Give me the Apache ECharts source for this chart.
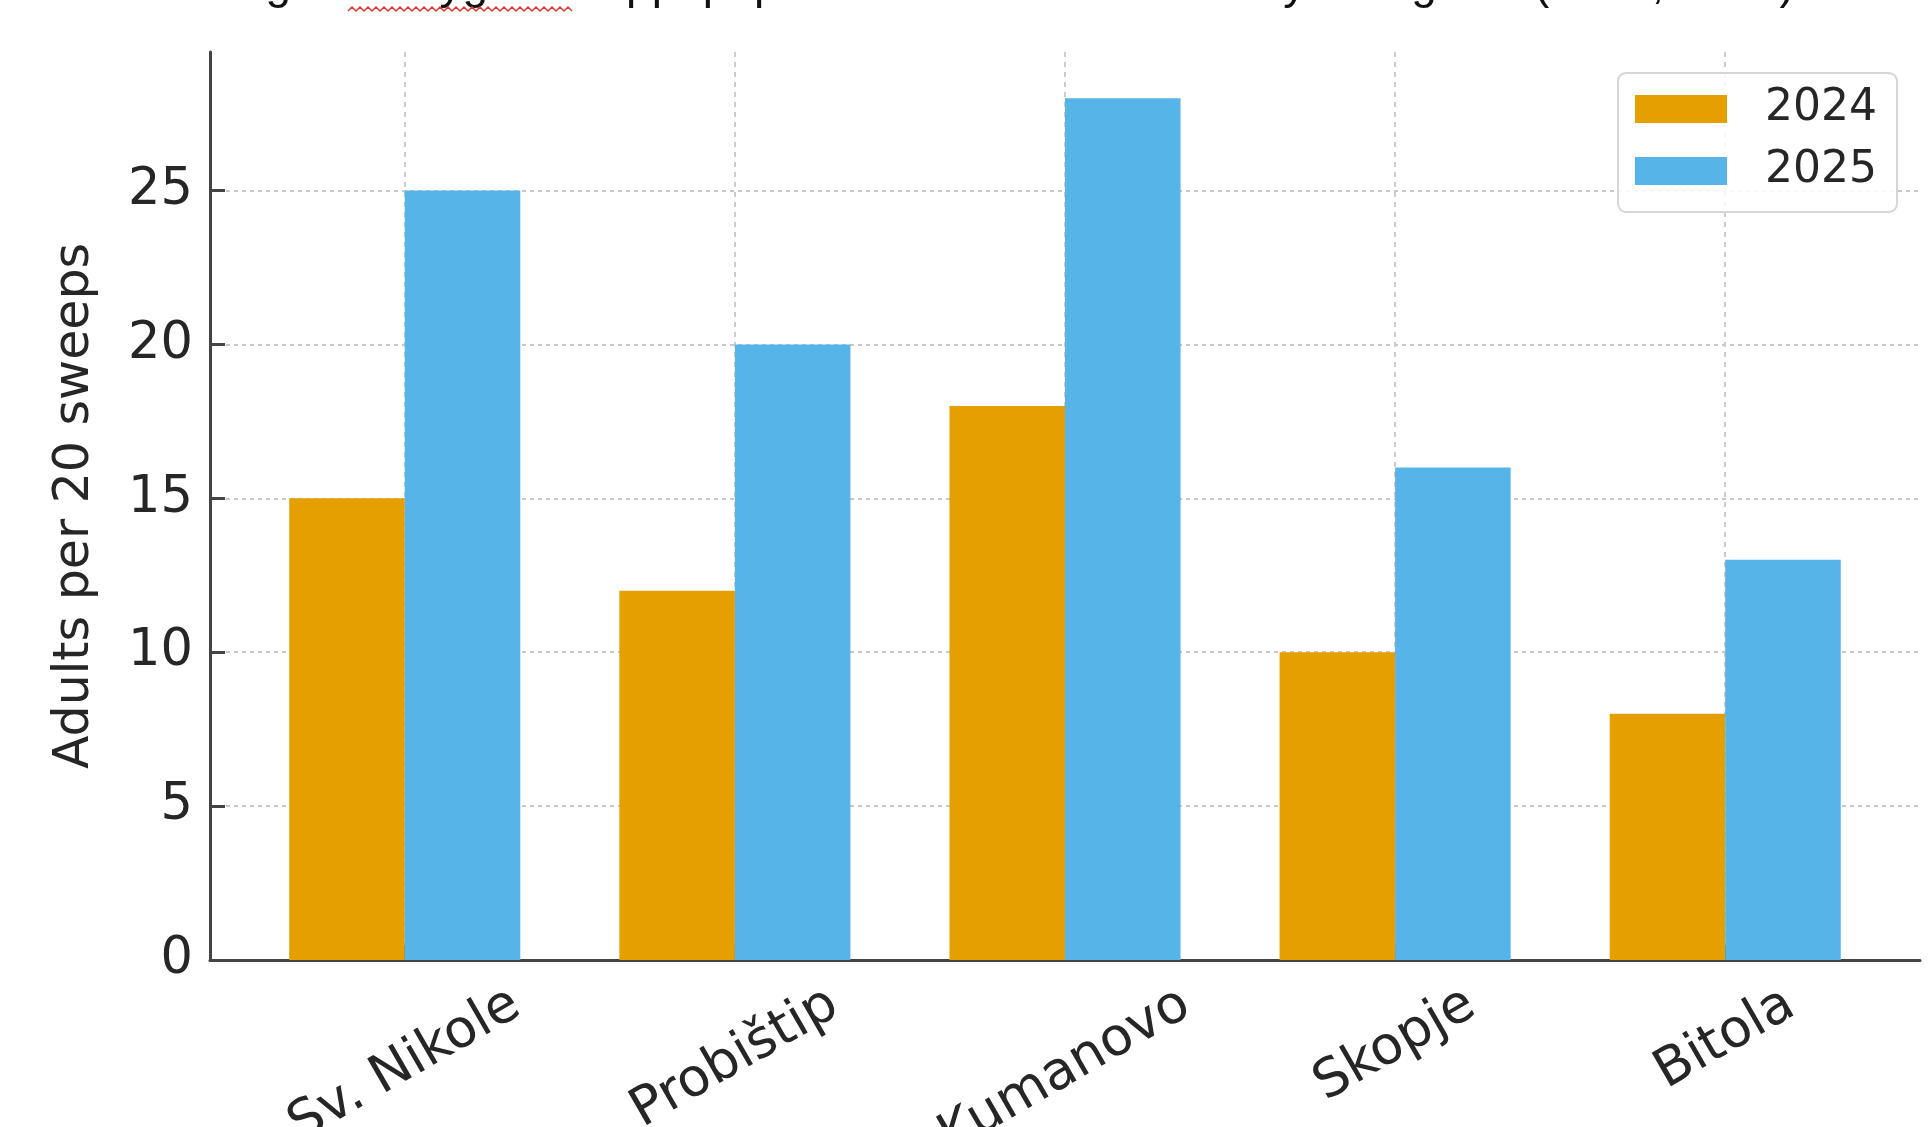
<!DOCTYPE html>
<html>
<head>
<meta charset="utf-8">
<script src="https://cdn.jsdelivr.net/npm/echarts@6/dist/echarts.min.js"></script>
<style>
html,body{margin:0;padding:0;background:#fff;}
#chart{width:1929px;height:1127px;}
</style>
</head>
<body>
<div id="chart"></div>
<script>
const categories = ['Sv. Nikole', 'Probištip', 'Kumanovo', 'Skopje', 'Bitola'];
const values2024 = [15, 12, 18, 10, 8];
const values2025 = [25, 20, 28, 16, 13];
const seriesNames = ['2024', '2025'];
const yTicks = [0, 5, 10, 15, 20, 25];
const titleText = 'Fig. 2. Eurygaster spp. population densities in surveyed regions (2024, 2025)';

const catIdx = categories.map((_, i) => i);
const toPairs = arr => arr.map((v, i) => [i, v]);

const chart = echarts.init(document.getElementById('chart'), null, {renderer: 'canvas'});
const FONT = 'DejaVu Sans';
const AXIS_COLOR = '#444';
const TEXT_COLOR = '#262626';
const XL_SIZE = 53;

// Top-align the rotated category labels (as matplotlib does): shift shorter labels up.
const ctx = document.createElement('canvas').getContext('2d');
ctx.font = XL_SIZE + 'px "' + FONT + '"';
const widths = categories.map(c => ctx.measureText(c).width);
const wMax = Math.max(...widths);
const rich = {};
categories.forEach((c, i) => {
  const d = (wMax - widths[i]) * 0.25;  // upward screen shift
  rich['l' + i] = {
    fontSize: XL_SIZE, fontFamily: FONT, color: TEXT_COLOR,
    padding: [0, 0, 2 * 0.866 * d, d]
  };
});

// decorative wavy underline (spell-check mark under the genus name)
const wave = [];
for (let x = 348, k = 0; x <= 572; x += 4, k++) wave.push([x, k % 2 ? 7 : 11]);

chart.setOption({
  animation: false,
  backgroundColor: '#fff',
  textStyle: {fontFamily: FONT},
  graphic: [
    {type: 'text', x: 1011, y: 8, style: {text: titleText, font: '46px "Liberation Sans"', fill: '#111', align: 'center', verticalAlign: 'bottom'}},
    {type: 'polyline', shape: {points: wave}, style: {stroke: '#e53935', lineWidth: 1.5, fill: null}}
  ],
  legend: {
    orient: 'vertical',
    left: 1618, top: 73,
    padding: [14, 20, 19, 17],
    itemWidth: 92, itemHeight: 28, itemGap: 18,
    icon: 'rect',
    borderColor: '#d6d6d6', borderWidth: 2, borderRadius: 8,
    backgroundColor: 'rgba(255,255,255,0.85)',
    textStyle: {fontFamily: FONT, fontSize: 44, color: TEXT_COLOR, padding: [0, 0, 0, 33]},
    data: seriesNames
  },
  grid: {left: 210, right: 9, top: 52, bottom: 167, containLabel: false, outerBoundsMode: 'none'},
  xAxis: {
    type: 'value',
    min: -0.59, max: 4.59,
    axisLine: {show: true, onZero: false, lineStyle: {color: AXIS_COLOR, width: 3}},
    axisTick: {show: true, inside: true, length: 15, customValues: catIdx, lineStyle: {color: AXIS_COLOR, width: 3}},
    axisLabel: {
      customValues: catIdx,
      rotate: 30, align: 'center', verticalAlign: 'middle', margin: 111,
      fontSize: XL_SIZE, fontFamily: FONT, color: TEXT_COLOR,
      formatter: v => { const i = Math.round(v); return '{l' + i + '|' + categories[i] + '}'; },
      rich: rich
    },
    splitLine: {show: true, lineStyle: {color: '#cccccc', width: 2, type: [5, 5]}}
  },
  yAxis: {
    type: 'value',
    min: 0, max: 29.5,
    name: 'Adults per 20 sweeps',
    nameLocation: 'middle', nameRotate: 90, nameGap: 110,
    nameTextStyle: {fontSize: 49, fontFamily: FONT, color: TEXT_COLOR},
    axisLine: {show: true, onZero: false, lineStyle: {color: AXIS_COLOR, width: 3}},
    axisTick: {show: true, inside: true, length: 15, customValues: yTicks, lineStyle: {color: AXIS_COLOR, width: 3}},
    axisLabel: {customValues: yTicks, margin: 17, fontSize: 51, fontFamily: FONT, color: TEXT_COLOR},
    splitLine: {show: true, lineStyle: {color: '#c8c8c8', width: 2, type: [4, 4]}}
  },
  series: [
    {name: seriesNames[0], type: 'bar', data: toPairs(values2024), itemStyle: {color: '#E69F00'}, barGap: '0%', barCategoryGap: '30%'},
    {name: seriesNames[1], type: 'bar', data: toPairs(values2025), itemStyle: {color: '#56B4E9'}, barGap: '0%', barCategoryGap: '30%'}
  ]
});
</script>
</body>
</html>
